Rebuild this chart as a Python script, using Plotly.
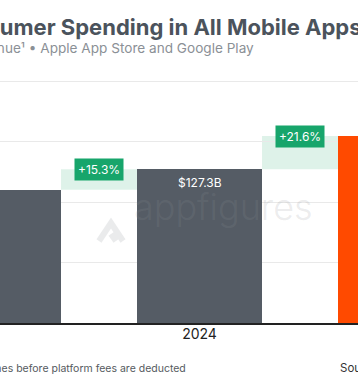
import plotly.graph_objects as go

# ---- data ----
years = ["2023", "2024", "2025"]
revenue_b = [110.4, 127.3, 154.8]          # consumer spending, $B
bar_labels = ["$110.4B", "$127.3B", "$154.8B"]
growth_labels = ["+15.3%", "+21.6%"]
grid_vals = [0, 50, 100, 150, 200]

title_text = "Consumer Spending in All Mobile Apps by Year"
subtitle_text = "Gross Revenue¹ • Apple App Store and Google Play"
footnote_text = "¹ Gross revenue is the total consumers spend on iPhones and Android phones before platform fees are deducted"
source_text = "Source: Appfigures"

W, H = 358, 382
B = 59
PW, PH = W, H - B
bar_w = 0.622
px_per_unit = 201.0
x0 = 1.5 / px_per_unit
x_range = [x0, x0 + PW / px_per_unit]
y_range = [0, PH / 1.2077]

DARK = "#555c65"
ORANGE = "#ff4a00"
GREEN = "#17a56b"
BAND = "rgba(200,234,218,0.6)"
WM = "rgba(140,145,150,0.18)"

def px(xp):
    return xp / PW

def py(yp):
    return 1 - yp / PH

colors = [DARK, DARK, ORANGE]
xs = list(range(len(years)))

fig = go.Figure()
fig.add_trace(go.Bar(x=xs, y=revenue_b, width=bar_w, marker=dict(color=colors, line=dict(width=0)),
                     hoverinfo="skip"))

shapes = []
annotations = []
# growth bands
for i in range(len(years) - 1):
    shapes.append(dict(type="rect", xref="x", yref="y", x0=i + bar_w / 2, x1=i + 1 - bar_w / 2,
                       y0=revenue_b[i], y1=revenue_b[i + 1], fillcolor=BAND, line=dict(width=0),
                       layer="below"))
    annotations.append(dict(xref="x", yref="y", x=i + 0.5, y=revenue_b[i + 1], text=growth_labels[i],
                            showarrow=False, bgcolor=GREEN, borderpad=3,
                            font=dict(family="Inter", size=12, color="white")))
# bar value labels
for i, v in enumerate(revenue_b):
    annotations.append(dict(xref="x", yref="y", x=i, y=v, yshift=-13, text=bar_labels[i], showarrow=False,
                            font=dict(family="Inter", size=12, color="white")))

# watermark
annotations.append(dict(xref="paper", yref="paper", x=px(223), y=py(231), text="appfigures", showarrow=False,
                        font=dict(family="Inter", size=36, color=WM, weight=300)))
shapes.append(dict(type="path", xref="paper", yref="paper", layer="above",
                   path=(f"M {px(99)},{py(241)} L {px(111)},{py(223)} L {px(123)},{py(241)} "
                         f"M {px(111)},{py(234)} L {px(116)},{py(241)}"),
                   line=dict(color=WM, width=6)))

# titles
annotations.append(dict(xref="paper", yref="paper", x=px(-58), y=py(27), xanchor="left", yanchor="middle",
                        text=title_text, showarrow=False,
                        font=dict(family="Inter", size=22, color="#4b535c", weight=700)))
annotations.append(dict(xref="paper", yref="paper", x=px(-78), y=py(48), xanchor="left", yanchor="middle",
                        text=subtitle_text, showarrow=False,
                        font=dict(family="Inter", size=13.6, color="#8b9096")))
annotations.append(dict(xref="paper", yref="paper", x=px(188), y=py(368), xanchor="right", yanchor="middle",
                        text=footnote_text, showarrow=False,
                        font=dict(family="Inter", size=10.5, color="#555a60")))
annotations.append(dict(xref="paper", yref="paper", x=px(338), y=py(368), xanchor="left", yanchor="middle",
                        text=source_text, showarrow=False,
                        font=dict(family="Inter", size=11.5, color="#333")))

fig.update_layout(
    width=W, height=H, margin=dict(l=0, r=0, t=0, b=B),
    paper_bgcolor="white", plot_bgcolor="white", showlegend=False,
    shapes=shapes, annotations=annotations,
    xaxis=dict(range=x_range, tickvals=xs, ticktext=years, showgrid=False, zeroline=False,
               showline=True, linecolor="#222", linewidth=2, ticks="", ticklabelstandoff=-3,
               tickfont=dict(family="Inter", size=14, color="#222")),
    yaxis=dict(range=y_range, tickvals=grid_vals, showticklabels=False, showgrid=True,
               gridcolor="#e9e9e9", gridwidth=1, zeroline=False),
    bargap=0,
)
fig.write_html("out.html", config={"displayModeBar": False},
               post_script="document.body.style.margin='0px';")
